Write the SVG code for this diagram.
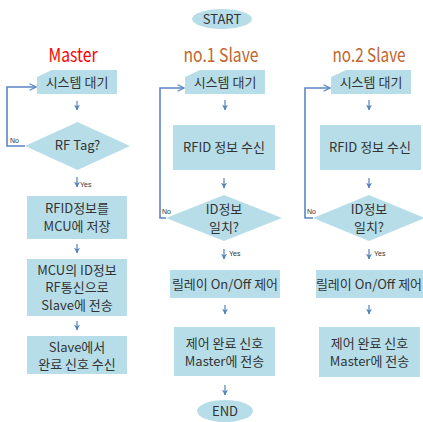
<svg xmlns="http://www.w3.org/2000/svg" width="423" height="422" viewBox="0 0 423 422">
  <style>
    .shape { fill: #b7dee8; stroke: none; }
    .txt { font-family: "Malgun Gothic", "Noto Sans CJK KR", "Noto Sans", sans-serif; font-size: 13px; fill: #333333; text-anchor: middle; }
    .title { font-family: "Malgun Gothic", "Noto Sans CJK KR", "Noto Sans", sans-serif; font-size: 19px; text-anchor: middle; }
    .small { font-family: "Liberation Sans Narrow", "Liberation Sans", sans-serif; font-size: 7px; fill: #333333; }
    .flow { stroke: #4f81bd; stroke-width: 1.2; fill: none; marker-end: url(#arr); }
    .loop { stroke: #5b86c5; stroke-width: 1.6; fill: none; marker-end: url(#arrOpen); }
  </style>
  <defs>
    <marker id="arr" viewBox="0 0 10 10" refX="9" refY="5" markerWidth="5" markerHeight="5" orient="auto">
      <path d="M0,0 L10,5 L0,10 L3,5 Z" fill="#4f81bd"/>
    </marker>
    <marker id="arrOpen" viewBox="0 0 10 10" refX="9" refY="5" markerWidth="5" markerHeight="5" orient="auto">
      <path d="M1,1 L9,5 L1,9" fill="none" stroke="#5b86c5" stroke-width="1.6"/>
    </marker>
  </defs>

  <!-- column titles -->
  <text class="title" x="73" y="62" fill="#ff0000" textLength="49" lengthAdjust="spacingAndGlyphs">Master</text>
  <text class="title" x="221" y="62" fill="#c0652b" textLength="75" lengthAdjust="spacingAndGlyphs">no.1 Slave</text>
  <text class="title" x="369" y="62" fill="#c0652b" textLength="73" lengthAdjust="spacingAndGlyphs">no.2 Slave</text>

  <!-- terminals -->
  <g id="start">
    <ellipse class="shape" cx="222" cy="19" rx="30" ry="10"/>
    <text class="txt" x="222" y="24">START</text>
  </g>
  <g id="end">
    <ellipse class="shape" cx="225" cy="411" rx="28" ry="11"/>
    <text class="txt" x="225" y="416">END</text>
  </g>

  <!-- Master column -->
  <g id="m-wait">
    <polygon class="shape" points="37,77 52,70 117,70 117,94 37,94"/>
    <text class="txt" x="77" y="87">시스템 대기</text>
  </g>
  <g id="m-tag">
    <polygon class="shape" points="77.5,122 130,146 77.5,170 25,146"/>
    <text class="txt" x="77.5" y="150">RF Tag?</text>
  </g>
  <g id="m-store">
    <rect class="shape" x="27" y="196" width="100" height="43"/>
    <text class="txt" x="77" y="213">RFID정보를</text>
    <text class="txt" x="77" y="231">MCU에 저장</text>
  </g>
  <g id="m-send">
    <rect class="shape" x="27" y="259" width="100" height="57"/>
    <text class="txt" x="77" y="274.5">MCU의 ID정보</text>
    <text class="txt" x="77" y="292">RF통신으로</text>
    <text class="txt" x="77" y="309.5">Slave에 전송</text>
  </g>
  <g id="m-recv">
    <rect class="shape" x="27" y="336" width="100" height="38"/>
    <text class="txt" x="77" y="351.5">Slave에서</text>
    <text class="txt" x="77" y="369">완료 신호 수신</text>
  </g>

  <!-- no.1 Slave column -->
  <g id="s1-wait">
    <polygon class="shape" points="185,77 200,70 265,70 265,94 185,94"/>
    <text class="txt" x="225" y="87">시스템 대기</text>
  </g>
  <g id="s1-rfid">
    <rect class="shape" x="173" y="125" width="102" height="45"/>
    <text class="txt" x="224" y="152">RFID 정보 수신</text>
  </g>
  <g id="s1-check">
    <polygon class="shape" points="224,195 282,218 224,241 166,218"/>
    <text class="txt" x="224" y="214">ID정보</text>
    <text class="txt" x="224" y="232">일치?</text>
  </g>
  <g id="s1-relay">
    <rect class="shape" x="170" y="270" width="110" height="28"/>
    <text class="txt" x="225" y="289">릴레이 On/Off 제어</text>
  </g>
  <g id="s1-done">
    <rect class="shape" x="174" y="327" width="101" height="49"/>
    <text class="txt" x="224.5" y="348">제어 완료 신호</text>
    <text class="txt" x="224.5" y="366">Master에 전송</text>
  </g>

  <!-- no.2 Slave column -->
  <g id="s2-wait">
    <polygon class="shape" points="331,77 346,70 411,70 411,94 331,94"/>
    <text class="txt" x="371" y="87">시스템 대기</text>
  </g>
  <g id="s2-rfid">
    <rect class="shape" x="320" y="125" width="101" height="45"/>
    <text class="txt" x="370" y="152">RFID 정보 수신</text>
  </g>
  <g id="s2-check">
    <polygon class="shape" points="369,195 425,218 369,241 313,218"/>
    <text class="txt" x="369" y="214">ID정보</text>
    <text class="txt" x="369" y="232">일치?</text>
  </g>
  <g id="s2-relay">
    <rect class="shape" x="316" y="270" width="107" height="28"/>
    <text class="txt" x="369" y="289">릴레이 On/Off 제어</text>
  </g>
  <g id="s2-done">
    <rect class="shape" x="319" y="327" width="101" height="50"/>
    <text class="txt" x="369.5" y="348">제어 완료 신호</text>
    <text class="txt" x="369.5" y="366">Master에 전송</text>
  </g>

  <!-- connectors -->
  <g id="connectors">
    <!-- Master -->
    <line class="flow" x1="77" y1="101" x2="77" y2="110"/>
    <line class="flow" x1="77" y1="177" x2="77" y2="187"/>
    <line class="flow" x1="77" y1="244" x2="77" y2="253"/>
    <line class="flow" x1="77" y1="321" x2="77" y2="330"/>
    <polyline class="loop" points="25,146 7,146 7,87 36,87"/>
    <!-- no.1 Slave -->
    <line class="flow" x1="225" y1="100" x2="225" y2="110"/>
    <line class="flow" x1="224" y1="178" x2="224" y2="188"/>
    <line class="flow" x1="224" y1="249" x2="224" y2="259"/>
    <line class="flow" x1="225" y1="305" x2="225" y2="314"/>
    <line class="flow" x1="225" y1="385" x2="225" y2="395"/>
    <polyline class="loop" points="166,218 160,218 160,88 184,88"/>
    <!-- no.2 Slave -->
    <line class="flow" x1="369" y1="100" x2="369" y2="110"/>
    <line class="flow" x1="369" y1="178" x2="369" y2="188"/>
    <line class="flow" x1="369" y1="249" x2="369" y2="259"/>
    <line class="flow" x1="369" y1="305" x2="369" y2="314"/>
    <polyline class="loop" points="313,218 305,218 305,88 330,88"/>
  </g>

  <!-- branch labels -->
  <text class="small" x="10" y="143">No</text>
  <text class="small" x="80" y="187">Yes</text>
  <text class="small" x="162" y="214">No</text>
  <text class="small" x="229" y="256">Yes</text>
  <text class="small" x="307" y="214">No</text>
  <text class="small" x="374" y="256">Yes</text>
</svg>
